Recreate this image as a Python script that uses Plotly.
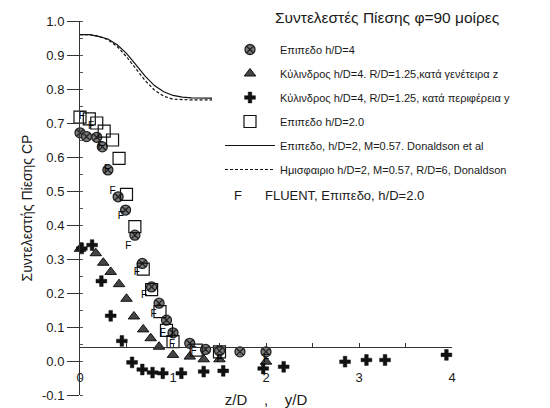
import plotly.graph_objects as go

# ---------------- data ----------------
x_line = [0.0, 0.1, 0.2, 0.3, 0.4, 0.5, 0.6, 0.7, 0.8, 0.9, 1.0, 1.1, 1.2, 1.3, 1.42]
y_donaldson_flat = [0.96, 0.96, 0.955, 0.947, 0.93, 0.905, 0.872, 0.838, 0.81, 0.792,
                    0.781, 0.776, 0.774, 0.773, 0.773]
y_donaldson_hemi = [0.96, 0.96, 0.955, 0.945, 0.925, 0.895, 0.86, 0.825, 0.797, 0.779,
                    0.77, 0.768, 0.768, 0.768, 0.768]

x_flat4 = [0.0, 0.07, 0.18, 0.24, 0.30, 0.41, 0.49, 0.59, 0.67, 0.77, 0.85, 0.93, 1.0,
           1.18, 1.35, 1.5, 1.72, 2.0]
y_flat4 = [0.671, 0.66, 0.658, 0.63, 0.562, 0.483, 0.444, 0.37, 0.287, 0.218, 0.17, 0.12,
           0.083, 0.052, 0.034, 0.03, 0.027, 0.027]

x_cyl_z = [0.0, 0.17, 0.25, 0.33, 0.42, 0.50, 0.58, 0.68, 0.76, 0.85, 1.0, 1.18, 1.33,
           1.5, 2.0]
y_cyl_z = [0.33, 0.317, 0.289, 0.262, 0.226, 0.183, 0.131, 0.093, 0.067, 0.042, 0.018,
           0.013, 0.005, 0.005, -0.002]

x_cyl_y = [0.02, 0.13, 0.23, 0.33, 0.45, 0.56, 0.67, 0.78, 0.89, 1.09, 1.33, 1.54, 1.97,
           2.19, 2.85, 3.08, 3.28, 3.94]
y_cyl_y = [0.331, 0.341, 0.235, 0.133, 0.059, -0.004, -0.025, -0.034, -0.036, -0.036,
           -0.031, -0.029, -0.022, -0.017, -0.002, 0.003, 0.003, 0.018]

x_flat2 = [0.0, 0.10, 0.18, 0.26, 0.35, 0.42, 0.50, 0.59, 0.68, 0.77, 0.86, 0.93, 1.0,
           1.25, 1.5]
y_flat2 = [0.717, 0.712, 0.70, 0.676, 0.65, 0.596, 0.49, 0.395, 0.27, 0.21, 0.145, 0.09,
           0.057, 0.032, 0.027]

x_fluent = [0.02, 0.12, 0.22, 0.29, 0.35, 0.44, 0.52, 0.61, 0.69, 0.79, 0.89, 0.99, 1.22,
            1.5, 2.0]
y_fluent = [0.718, 0.69, 0.63, 0.562, 0.50, 0.424, 0.336, 0.26, 0.194, 0.138, 0.08, 0.05,
            0.027, 0.005, 0.003]

x_ticks = [0, 1, 2, 3, 4]
y_ticks = [-0.1, 0.0, 0.1, 0.2, 0.3, 0.4, 0.5, 0.6, 0.7, 0.8, 0.9, 1.0]

legend_names = [
    "Επιπεδο h/D=4",
    "Κύλινδρος h/D=4. R/D=1.25,κατά γενέτειρα z",
    "Κύλινδρος h/D=4, R/D=1.25, κατά περιφέρεια y",
    "Επιπεδο h/D=2.0",
    "Επιπεδο, h/D=2, M=0.57. Donaldson et al",
    "Ημισφαιριο h/D=2, M=0.57, R/D=6, Donaldson",
]
legend_title = "Συντελεστές Πίεσης φ=90 μοίρες"
fluent_label = "FLUENT, Επιπεδο, h/D=2.0"

FONT = "Liberation Sans, Arial, sans-serif"
INK = "#1a1a1a"

fig = go.Figure()

fig.add_trace(go.Scatter(
    x=x_flat4, y=y_flat4, mode="markers", name=legend_names[0], legendgroup="a",
    marker=dict(symbol="circle-x", size=10, color="#7a7a7a",
                line=dict(color="#222", width=1.3)), cliponaxis=False))
fig.add_trace(go.Scatter(
    x=x_cyl_z, y=y_cyl_z, mode="markers", name=legend_names[1], legendgroup="b",
    marker=dict(symbol="triangle-up", size=10, color="#444",
                line=dict(color="#111", width=1)), cliponaxis=False))
fig.add_trace(go.Scatter(
    x=x_cyl_y, y=y_cyl_y, mode="markers", name=legend_names[2], legendgroup="c",
    marker=dict(symbol="cross", size=9, color="#111",
                line=dict(color="#111", width=0.5)), cliponaxis=False))
fig.add_trace(go.Scatter(
    x=x_flat2, y=y_flat2, mode="markers", name=legend_names[3], legendgroup="d",
    marker=dict(symbol="square-open", size=12, color="#111",
                line=dict(color="#111", width=1.2)), cliponaxis=False))
fig.add_trace(go.Scatter(
    x=x_line, y=y_donaldson_flat, mode="lines", name=legend_names[4], legendgroup="e",
    line=dict(color="#111", width=1.2)))
fig.add_trace(go.Scatter(
    x=x_line, y=y_donaldson_hemi, mode="lines", name=legend_names[5], legendgroup="f",
    line=dict(color="#111", width=1.2, dash="3px,2px")))
fig.add_trace(go.Scatter(
    x=x_fluent, y=y_fluent, mode="text", text=["F"] * len(x_fluent), showlegend=False,
    marker=dict(color="black"),
    textfont=dict(family=FONT, size=10, color="black"), cliponaxis=False))

fig.update_layout(
    width=550, height=408,
    margin=dict(l=80, r=98, t=21, b=13),
    paper_bgcolor="white", plot_bgcolor="white",
    font=dict(family=FONT, color=INK),
    showlegend=True,
    legend=dict(
        x=(220 - 80) / 372, y=(395 - 35) / 374, xanchor="left", yanchor="top",
        bgcolor="rgba(0,0,0,0)", borderwidth=0,
        font=dict(family=FONT, size=11, color=INK),
        itemwidth=50, tracegroupgap=5,
    ),
    xaxis=dict(
        range=[0, 4], anchor="free", position=(0.041 + 0.1) / 1.1, automargin=False,
        showgrid=False, zeroline=False, showline=True, linecolor="#333", linewidth=1,
        tickmode="array", tickvals=x_ticks, ticktext=[str(v) for v in x_ticks],
        ticks="inside", ticklen=4, tickcolor="#333",
        minor=dict(dtick=0.5, ticks="inside", ticklen=4, tickcolor="#333"),
        tickfont=dict(family=FONT, size=13, color=INK), ticklabelstandoff=18,
        title=dict(text="z/D    ,    y/D", font=dict(family=FONT, size=15, color=INK),
                   standoff=14),
    ),
    yaxis=dict(
        range=[-0.1, 1.0], showgrid=False, zeroline=False, automargin=False,
        showline=True, linecolor="#333", linewidth=1,
        tickmode="array", tickvals=y_ticks, ticktext=[f"{v:.1f}" for v in y_ticks],
        ticks="outside", ticklen=12, tickcolor="#333",
        minor=dict(dtick=0.05, ticks="inside", ticklen=3, tickcolor="#555"),
        tickfont=dict(family=FONT, size=13, color=INK),
        title=dict(text="Συντελεστής Πίεσης CP", font=dict(family=FONT, size=14, color=INK),
                   standoff=6),
    ),
)

fig.add_annotation(xref="paper", yref="paper", x=(273 - 80) / 372, y=(395 - 18) / 374,
                   text=legend_title, showarrow=False, xanchor="left", yanchor="middle",
                   font=dict(family=FONT, size=15.5, color=INK))
fig.add_annotation(xref="paper", yref="paper", x=(238 - 80) / 372, y=(395 - 195) / 374,
                   text="F", showarrow=False, xanchor="center", yanchor="middle",
                   font=dict(family=FONT, size=13, color=INK))
fig.add_annotation(xref="paper", yref="paper", x=(263 - 80) / 372, y=(395 - 195) / 374,
                   text=fluent_label, showarrow=False, xanchor="left", yanchor="middle",
                   font=dict(family=FONT, size=13, color=INK))

fig.write_html("out.html")
